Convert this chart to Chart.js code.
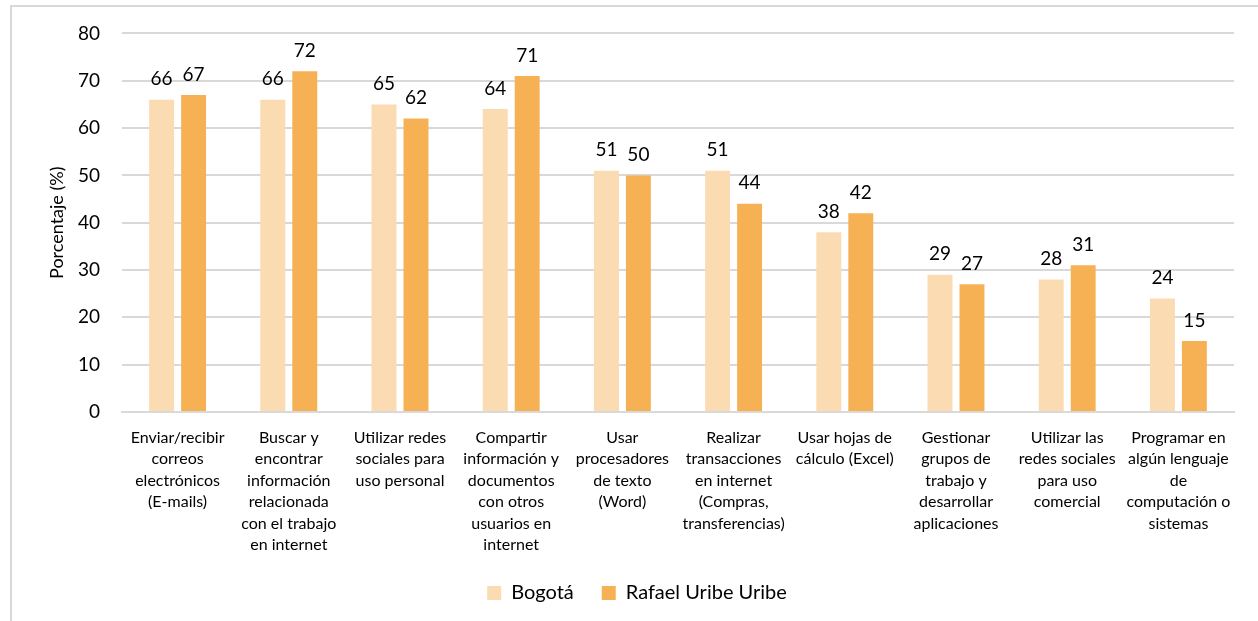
<!DOCTYPE html>
<html>
<head>
<meta charset="utf-8">
<script src="https://cdn.jsdelivr.net/npm/chart.js@4"></script>
<style>
  html, body { margin: 0; padding: 0; background: #fff; }
  #wrap { position: relative; width: 1258px; height: 621px; overflow: hidden; }
  #frame { position: absolute; left: 10px; top: 5px; width: 1300px; height: 700px; border: 2px solid #d9d9d9; box-sizing: border-box; }
  canvas { position: absolute; left: 0; top: 0; }
</style>
</head>
<body>
<div id="wrap">
  <div id="frame"></div>
  <canvas id="chart" width="1258" height="621"></canvas>
</div>
<script>
const categories = [
  ["Enviar/recibir", "correos", "electrónicos", "(E-mails)"],
  ["Buscar y", "encontrar", "información", "relacionada", "con el trabajo", "en internet"],
  ["Utilizar redes", "sociales para", "uso personal"],
  ["Compartir", "información y", "documentos", "con otros", "usuarios en", "internet"],
  ["Usar", "procesadores", "de texto", "(Word)"],
  ["Realizar", "transacciones", "en internet", "(Compras,", "transferencias)"],
  ["Usar hojas de", "cálculo (Excel)"],
  ["Gestionar", "grupos de", "trabajo y", "desarrollar", "aplicaciones"],
  ["Utilizar las", "redes sociales", "para uso", "comercial"],
  ["Programar en", "algún lenguaje", "de", "computación o", "sistemas"]
];
const bogota = [66, 66, 65, 64, 51, 51, 38, 29, 28, 24];
const rafaelUribe = [67, 72, 62, 71, 50, 44, 42, 27, 31, 15];
const yTicks = [0, 10, 20, 30, 40, 50, 60, 70, 80];

const fontFam = "Lato, 'Open Sans', sans-serif";

// etiquetas de valor encima de cada barra
const valueLabels = {
  id: "valueLabels",
  afterDatasetsDraw(chart) {
    const ctx = chart.ctx;
    ctx.save();
    ctx.font = "19px " + fontFam;
    ctx.fillStyle = "#000";
    ctx.textAlign = "center";
    ctx.textBaseline = "bottom";
    chart.data.datasets.forEach((ds, i) => {
      chart.getDatasetMeta(i).data.forEach((bar, j) => {
        ctx.fillText(ds.data[j], bar.x, bar.y - 11);
      });
    });
    ctx.restore();
  }
};

new Chart(document.getElementById("chart"), {
  type: "bar",
  data: {
    labels: categories,
    datasets: [
      { label: "Bogotá", data: bogota, backgroundColor: "#FBDBB2" },
      { label: "Rafael Uribe Uribe", data: rafaelUribe, backgroundColor: "#F6B155" }
    ]
  },
  options: {
    responsive: false,
    animation: false,
    events: [],
    layout: { padding: { left: 40, right: 24, top: 22, bottom: 8 } },
    datasets: { bar: { categoryPercentage: 0.575, barPercentage: 0.78 } },
    plugins: {
      legend: {
        position: "bottom",
        labels: {
          font: { family: fontFam, size: 20 },
          color: "#000",
          boxWidth: 14,
          boxHeight: 14,
          padding: 28
        }
      },
      tooltip: { enabled: false }
    },
    scales: {
      x: {
        grid: { display: false, drawTicks: false },
        border: { color: "#d9d9d9", width: 2 },
        ticks: {
          color: "#000",
          font: { family: fontFam, size: 16, lineHeight: 1.34 },
          maxRotation: 0,
          autoSkip: false,
          padding: 15
        },
        afterFit(scale) { scale.height = 143; }
      },
      y: {
        min: 0,
        max: 80,
        afterBuildTicks(scale) { scale.ticks = yTicks.map(v => ({ value: v })); },
        grid: { color: "#d9d9d9", lineWidth: 2, drawTicks: false },
        border: { display: false },
        ticks: {
          color: "#000",
          font: { family: fontFam, size: 19 },
          padding: 22
        },
        title: {
          display: true,
          text: "Porcentaje (%)",
          color: "#000",
          font: { family: fontFam, size: 18 },
          padding: { top: 6, bottom: 0 }
        },
        afterFit(scale) { scale.width = 82; }
      }
    }
  },
  plugins: [valueLabels]
});
</script>
</body>
</html>
